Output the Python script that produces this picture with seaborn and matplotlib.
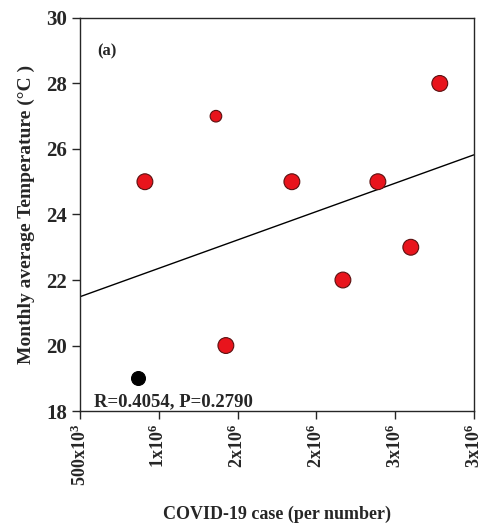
import numpy as np
import pandas as pd
import matplotlib
matplotlib.use("Agg")
import matplotlib.pyplot as plt
import seaborn as sns

# data
cases = [912e3, 1.363e6, 1.426e6, 1.845e6, 2.169e6, 2.391e6, 2.60e6, 2.784e6]
temps = [25, 27, 20, 25, 22, 25, 23, 28]
sizes = [130, 70, 130, 130, 130, 130, 130, 130]
black_case = [868e3]
black_temp = [19]
line_x = [500e3, 3.0e6]
line_y = [21.49, 25.82]
xtick_vals = [500e3, 1.0e6, 1.5e6, 2.0e6, 2.5e6, 3.0e6]
xtick_labels = ["500x10$^3$", "1x10$^6$", "2x10$^6$", "2x10$^6$", "3x10$^6$", "3x10$^6$"]

sns.set_style("ticks")
plt.rcParams['font.family'] = ['Liberation Serif', 'DejaVu Serif']
plt.rcParams['mathtext.fontset'] = 'custom'
plt.rcParams['mathtext.rm'] = 'Liberation Serif:bold'
plt.rcParams['mathtext.it'] = 'Liberation Serif:bold'
plt.rcParams['mathtext.bf'] = 'Liberation Serif:bold'

df = pd.DataFrame({"case": cases, "temp": temps, "size": sizes})

fig, ax = plt.subplots(figsize=(4.82, 5.27), dpi=100)
fig.subplots_adjust(left=0.166, right=0.983, top=0.966, bottom=0.22)

sns.lineplot(x=line_x, y=line_y, ax=ax, color="black", linewidth=1.0)
sns.scatterplot(data=df, x="case", y="temp", size="size", sizes=(70, 130),
                color="#e8141c", edgecolor="#5a1010", linewidth=0.8, legend=False, ax=ax, zorder=3)
sns.scatterplot(x=black_case, y=black_temp, color="black", s=100, edgecolor="black", ax=ax, zorder=3)

ax.set_xlim(500e3, 3.0e6)
ax.set_ylim(18, 30)
ax.set_xticks(xtick_vals)
ax.set_xticklabels(xtick_labels, rotation=90, fontsize=13, fontweight="bold")
ax.set_yticks(range(18, 31, 2))
ax.set_yticklabels([str(v) for v in range(18, 31, 2)], fontsize=15, fontweight="bold")
ax.tick_params(direction="out", length=6, width=1)
for s in ax.spines.values():
    s.set_visible(True)
    s.set_linewidth(1)

ax.set_xlabel("COVID-19 case (per number)", fontsize=13, fontweight="bold", labelpad=14)
ax.set_ylabel("Monthly average Temperature (°C )", fontsize=14, fontweight="bold", labelpad=8)

ax.text(0.045, 0.905, "(a)", transform=ax.transAxes, fontsize=12, fontweight="bold")
ax.text(0.035, 0.012, "R=0.4054, P=0.2790", transform=ax.transAxes, fontsize=13.5, fontweight="bold")

plt.savefig("out.png", dpi=100)
